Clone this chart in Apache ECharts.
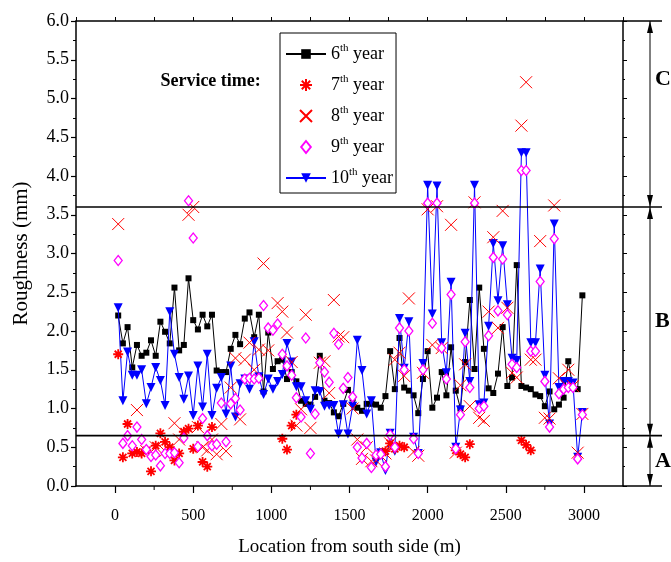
<!DOCTYPE html>
<html>
<head>
<meta charset="utf-8">
<script src="https://cdn.jsdelivr.net/npm/echarts@6/dist/echarts.min.js"></script>
<style>
html,body{margin:0;padding:0;background:#fff;}
#chart{width:671px;height:562px;}
</style>
</head>
<body>
<div id="chart"></div>
<script>
// ---------------- data ----------------
const locations = [20,50,80,110,140,170,200,230,260,290,320,350,380,410,440,470,500,530,560,590,620,650,680,710,740,770,800,830,860,890,920,950,980,1010,1040,1070,1100,1130,1160,1190,1220,1250,1280,1310,1340,1370,1400,1430,1460,1490,1520,1550,1580,1610,1640,1670,1700,1730,1760,1790,1820,1850,1880,1910,1940,1970,2000,2030,2060,2090,2120,2150,2180,2210,2240,2270,2300,2330,2360,2390,2420,2450,2480,2510,2540,2570,2600,2630,2660,2690,2720,2750,2780,2810,2840,2870,2900,2930,2960,2990];

const year6 = [2.20,1.84,2.05,1.53,1.82,1.68,1.72,1.88,1.68,2.12, 1.99,1.84,2.56,1.75,1.82,2.68,2.14,2.02,2.21,2.06, 2.21,1.49,1.47,1.47,1.77,1.95,1.83,2.16,2.24,1.92, 2.21,1.22,1.98,1.51,1.61,1.63,1.38,1.47,1.35,1.10, 1.06,1.05,1.15,1.68,1.10,1.07,0.95,0.90,1.06,1.24, 1.13,1.01,0.97,1.06,1.06,1.05,1.01,1.16,1.74,1.25, 1.91,1.27,1.23,1.17,0.94,1.38,1.74,1.01,1.14,1.47, 1.17,1.79,1.23,1.00,1.60,2.40,1.51,2.56,1.77,1.26, 1.20,1.45,2.05,1.29,1.40,2.85,1.29,1.27,1.25,1.18, 1.16,1.03,1.22,0.99,1.05,1.14,1.61,1.27,1.25,2.46];

const year7 = [1.70,0.37,0.80,0.42,0.44,0.42,0.46,0.19,0.52,0.68, 0.57,0.50,0.33,0.42,0.70,0.74,0.48,0.78,0.31,0.25, 0.76,null,null,null,null,null,null,null,null,null, null,null,null,null,null,0.61,0.47,0.78,0.92,null, null,null,null,null,null,null,null,null,null,null, null,null,null,null,null,null,null,0.45,0.55,0.48, 0.52,0.50,null,null,null,null,null,null,null,null, null,null,0.46,0.41,0.37,0.54,null,null,null,null, null,null,null,null,null,null,0.59,0.53,0.46,null, null,null,null,null,null,null,null,null,null,null];

const year8 = [3.38,null,null,null,0.98,null,0.45,null,0.50,null, 0.45,null,0.81,0.60,null,3.50,3.60,0.76,0.50,0.46, 0.60,0.41,0.80,0.45,1.27,1.65,0.86,1.63,1.85,1.50, 1.76,2.87,1.75,null,2.36,2.25,1.98,1.60,0.78,0.99, 2.21,0.75,null,1.59,1.61,1.20,2.40,1.93,1.92,null, 1.00,0.60,0.35,0.50,0.32,0.33,0.39,0.42,0.55,1.63, 1.72,1.42,2.42,0.44,0.39,1.46,3.57,1.82,3.61,1.78, null,3.37,0.43,1.30,1.57,1.03,3.66,0.88,0.84,2.25, 3.21,2.04,3.55,2.30,1.46,1.40,4.65,5.21,1.63,1.63, 3.16,0.88,0.87,3.62,1.39,null,1.50,1.29,0.43,0.93];

const year9 = [2.91,0.55,0.65,0.52,0.76,0.60,0.47,0.38,0.40,0.26, 0.42,0.42,0.43,0.30,0.62,3.68,3.20,0.51,0.87,0.65, 0.52,0.54,1.07,0.57,1.06,1.13,0.98,1.38,1.39,1.38, 1.39,2.33,2.04,2.01,2.09,1.70,1.55,1.43,1.14,0.89, 1.91,0.42,0.93,1.59,1.47,1.34,1.97,1.83,1.26,1.40, 1.15,0.50,0.36,0.55,0.24,0.40,0.41,0.25,0.66,0.50, 2.04,1.50,2.00,0.61,0.42,1.50,3.65,2.10,3.65,1.78, 1.38,2.47,0.48,0.92,1.86,1.27,3.65,1.00,1.03,1.94, 2.95,2.26,2.93,2.21,1.57,1.53,4.07,4.07,1.74,1.74, 2.64,1.35,0.76,3.19,1.19,1.25,1.27,1.27,0.35,0.92];

const year10 = [2.30,1.10,1.73,1.43,1.43,1.50,1.06,1.27,1.53,1.36, 1.04,2.25,1.70,1.40,1.12,1.42,0.91,1.55,1.02,1.70, 0.91,1.26,1.40,0.93,1.55,0.89,1.32,1.38,1.25,1.86, 1.41,1.18,1.38,1.25,1.35,1.44,1.84,1.60,1.28,1.28, 1.10,0.99,1.23,1.22,1.03,1.04,1.04,0.67,1.05,0.67, 1.03,1.88,1.49,0.93,1.10,0.31,0.43,0.20,0.68,0.45, 2.16,1.52,2.12,0.63,0.42,1.58,3.88,2.22,3.87,1.85, 1.46,2.63,0.50,0.98,1.97,1.35,3.88,1.05,1.07,2.06, 3.13,2.39,3.10,2.34,1.65,1.62,4.30,4.30,1.85,1.85, 2.80,1.43,0.80,3.38,1.27,1.35,1.35,1.33,0.37,0.95];

const seriesNames = ['6th year','7th year','8th year','9th year','10th year'];
const xMajorTicks = [0,500,1000,1500,2000,2500,3000];
const xMinorTicks = [250,750,1250,1750,2250,2750];
const zoneLimits = [6.0, 3.6, 0.65, 0.0];
const zoneLabels = [{t:'C', v:5.25},{t:'B', v:2.125},{t:'A', v:0.325}];
const noteText = 'Service time:';
const notePos = [290, 5.22];

// ---------------- chart ----------------
const FONT = '"Liberation Serif","Times New Roman",serif';
const pairs = arr => locations.map((x,i)=>[x, arr[i]]).filter(p => p[1] !== null);
const starPath = 'path://M5,0L5,10M0,5L10,5M1.5,1.5L8.5,8.5M8.5,1.5L1.5,8.5';
const crossPath = 'path://M0,0L10,10M10,0L0,10';
const diamondPath = 'path://M4,0L8,5L4,10L0,5Z';

const chart = echarts.init(document.getElementById('chart'), null, {renderer:'canvas'});
const axisLineStyle = {color:'#000', width:1.5};

const option = {
  animation:false,
  backgroundColor:'#fff',
  grid:{left:76, right:48, top:21, bottom:73, containLabel:false},
  legend:{
    orient:'vertical', left:280, top:33,
    data:[
      {name:'6th year'},
      {name:'7th year'},
      {name:'8th year'},
      {name:'9th year', icon:diamondPath},
      {name:'10th year'}
    ],
    symbolKeepAspect:true,
    itemWidth:40, itemHeight:12, itemGap:9,
    padding:[10,3,4,5],
    borderColor:'#000', borderWidth:1,
    formatter:function(name){ const n = name.replace('th year',''); return '{n|'+n+'}{s|th}{n| year}'; },
    textStyle:{fontFamily:FONT, fontSize:18, color:'#000', lineHeight:22,
      rich:{ n:{fontFamily:FONT, fontSize:18, color:'#000', lineHeight:22},
             s:{fontFamily:FONT, fontSize:11, color:'#000', verticalAlign:'top', lineHeight:22} } }
  },
  xAxis:[
    {type:'value', min:-250, max:3250, position:'bottom',
     name:'Location from south side (m)', nameLocation:'middle', nameGap:52,
     nameTextStyle:{fontFamily:FONT, fontSize:19, color:'#000'},
     axisLine:{show:true, onZero:false, lineStyle:axisLineStyle},
     axisTick:{show:true, inside:false, length:7, customValues:xMajorTicks, lineStyle:{color:'#000', width:1.2}},
     axisLabel:{show:true, customValues:xMajorTicks, margin:22, fontFamily:FONT, fontSize:16, color:'#000', formatter:v=>String(v)},
     splitLine:{show:false}},
    {type:'value', min:-250, max:3250, interval:250, position:'top',
     axisLine:{show:true, onZero:false, lineStyle:axisLineStyle},
     axisTick:{show:true, inside:false, length:4, lineStyle:{color:'#000', width:1}},
     axisLabel:{show:false}, splitLine:{show:false}}
  ],
  yAxis:[
    {type:'value', min:0, max:6, interval:0.5, position:'left',
     name:'Roughness (mm)', nameLocation:'middle', nameGap:44,
     nameTextStyle:{fontFamily:FONT, fontSize:21, color:'#000'},
     axisLine:{show:true, onZero:false, lineStyle:axisLineStyle},
     axisTick:{show:true, inside:false, length:5, lineStyle:{color:'#000', width:1.2}},
     minorTick:{show:true, splitNumber:2, length:3, lineStyle:{color:'#000', width:1}},
     axisLabel:{margin:7, fontFamily:FONT, fontSize:18, color:'#000', formatter:v=>v.toFixed(1)},
     splitLine:{show:false}, minorSplitLine:{show:false}},
    {type:'value', min:0, max:6, interval:0.5, position:'right',
     axisLine:{show:true, onZero:false, lineStyle:axisLineStyle},
     axisTick:{show:true, inside:false, length:4, lineStyle:{color:'#000', width:1}},
     minorTick:{show:true, splitNumber:2, length:2, lineStyle:{color:'#000', width:1}},
     axisLabel:{show:false}, splitLine:{show:false}}
  ],
  series:[
    {name:'6th year', type:'line', xAxisIndex:0, yAxisIndex:0, data:pairs(year6),
     symbol:'rect', symbolSize:6, lineStyle:{color:'#000', width:1}, itemStyle:{color:'#000'}, z:2},
    {name:'10th year', type:'line', xAxisIndex:0, yAxisIndex:0, data:pairs(year10),
     symbol:'triangle', symbolRotate:180, symbolSize:9, lineStyle:{color:'#0000ff', width:1}, itemStyle:{color:'#0000ff'}, z:3},
    {name:'7th year', type:'scatter', xAxisIndex:0, yAxisIndex:0, data:pairs(year7),
     symbol:starPath, symbolSize:10, itemStyle:{color:'#ff0000', borderColor:'#ff0000', borderWidth:1.8, opacity:1}, z:4},
    {name:'8th year', type:'scatter', xAxisIndex:0, yAxisIndex:0, data:pairs(year8),
     symbol:crossPath, symbolSize:12, itemStyle:{color:'#ff0000', borderColor:'#ff0000', borderWidth:1, opacity:1}, z:5},
    {name:'9th year', type:'scatter', xAxisIndex:0, yAxisIndex:0, data:pairs(year9),
     symbol:'diamond', symbolSize:[8,10], itemStyle:{color:'#ffffff', borderColor:'#ff00ff', borderWidth:1.3, opacity:1}, z:6}
  ]
};
chart.setOption(option);

// ---------------- annotations placed through the axes ----------------
const P = (x,y) => chart.convertToPixel({gridIndex:0}, [x,y]);
const leftX = P(-250,0)[0], rightX = P(3250,0)[0];
const extX = rightX + 39, arrowX = rightX + 27;
const g = [];
zoneLimits.forEach(v=>{
  const y = P(0,v)[1];
  const x0 = (v === 3.6 || v === 0.65) ? leftX : rightX;
  g.push({type:'line', shape:{x1:x0, y1:y, x2:extX, y2:y}, style:{stroke:'#000', lineWidth:1.6}, z:10});
});
xMinorTicks.forEach(v=>{
  const p = P(v,0);
  g.push({type:'line', shape:{x1:p[0], y1:p[1], x2:p[0], y2:p[1]+4}, style:{stroke:'#000', lineWidth:1}, z:10});
});
for (let k=0;k<zoneLimits.length-1;k++){
  const yT = P(0,zoneLimits[k])[1], yB = P(0,zoneLimits[k+1])[1];
  g.push({type:'line', shape:{x1:arrowX, y1:yT, x2:arrowX, y2:yB}, style:{stroke:'#000', lineWidth:1}, z:10});
  g.push({type:'polygon', shape:{points:[[arrowX,yT],[arrowX-3,yT+12],[arrowX+3,yT+12]]}, style:{fill:'#000'}, z:10});
  g.push({type:'polygon', shape:{points:[[arrowX,yB],[arrowX-3,yB-12],[arrowX+3,yB-12]]}, style:{fill:'#000'}, z:10});
}
zoneLabels.forEach(z=>{
  const y = P(0,z.v)[1];
  g.push({type:'text', x:rightX+32, y:y, style:{text:z.t, font:'bold 22px '+FONT, fill:'#000', textAlign:'left', textVerticalAlign:'middle'}, z:10});
});
const np = P(notePos[0], notePos[1]);
g.push({type:'text', x:np[0], y:np[1], style:{text:noteText, font:'bold 18px '+FONT, fill:'#000', textAlign:'left', textVerticalAlign:'middle'}, z:10});
chart.setOption({graphic:g});
</script>
</body>
</html>
